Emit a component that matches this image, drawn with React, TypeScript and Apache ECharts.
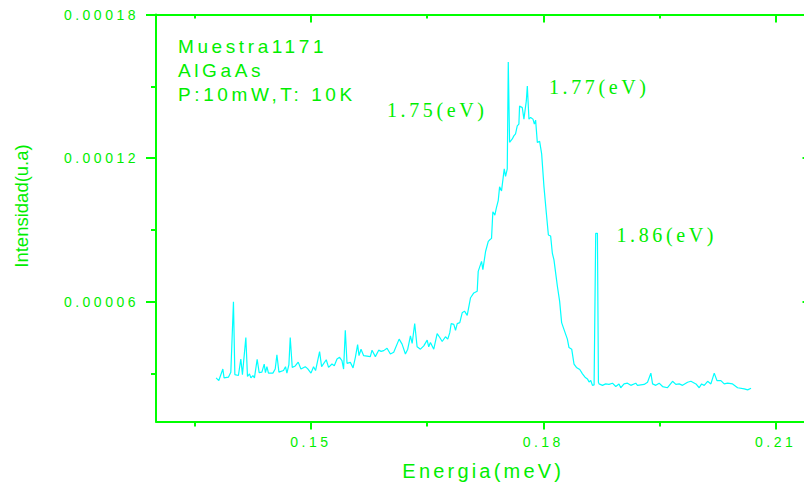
import { useEffect, useRef } from 'react';
import * as echarts from 'echarts';

// Photoluminescence spectrum
const energy = [
  0.13776, 0.13811, 0.13863, 0.13879, 0.13935, 0.13966, 0.14000, 0.14018, 0.14064, 0.14095,
  0.14116, 0.14160, 0.14181, 0.14207, 0.14225, 0.14251, 0.14271, 0.14306, 0.14332, 0.14367,
  0.14397, 0.14413, 0.14432, 0.14452, 0.14509, 0.14539, 0.14561, 0.14587, 0.14646, 0.14672,
  0.14690, 0.14716, 0.14733, 0.14759, 0.14798, 0.14836, 0.14871, 0.14927, 0.14957, 0.15001,
  0.15034, 0.15060, 0.15112, 0.15138, 0.15198, 0.15228, 0.15272, 0.15302, 0.15337, 0.15370,
  0.15401, 0.15422, 0.15444, 0.15466, 0.15509, 0.15544, 0.15574, 0.15603, 0.15621, 0.15647,
  0.15681, 0.15767, 0.15789, 0.15832, 0.15875, 0.15906, 0.15940, 0.15983, 0.16026, 0.16069,
  0.16139, 0.16177, 0.16220, 0.16250, 0.16285, 0.16307, 0.16340, 0.16371, 0.16414, 0.16457,
  0.16501, 0.16521, 0.16543, 0.16586, 0.16630, 0.16664, 0.16695, 0.16737, 0.16767, 0.16793,
  0.16811, 0.16845, 0.16867, 0.16889, 0.16922, 0.16953, 0.16983, 0.17018, 0.17061, 0.17103,
  0.17147, 0.17160, 0.17203, 0.17220, 0.17255, 0.17290, 0.17306, 0.17332, 0.17349, 0.17375,
  0.17393, 0.17419, 0.17436, 0.17461, 0.17496, 0.17513, 0.17535, 0.17548, 0.17565, 0.17600,
  0.17620, 0.17642, 0.17664, 0.17685, 0.17694, 0.17729, 0.17750, 0.17781, 0.17794, 0.17815,
  0.17837, 0.17867, 0.17885, 0.17901, 0.17923, 0.17953, 0.17979, 0.18009, 0.18040, 0.18066,
  0.18095, 0.18117, 0.18138, 0.18160, 0.18182, 0.18211, 0.18237, 0.18267, 0.18311, 0.18332,
  0.18367, 0.18397, 0.18428, 0.18471, 0.18506, 0.18539, 0.18570, 0.18591, 0.18613, 0.18635,
  0.18656, 0.18677, 0.18699, 0.18712, 0.18720, 0.18764, 0.18806, 0.18849, 0.18893, 0.18936,
  0.18978, 0.19000, 0.19043, 0.19087, 0.19130, 0.19194, 0.19216, 0.19302, 0.19346, 0.19389,
  0.19411, 0.19453, 0.19496, 0.19540, 0.19604, 0.19669, 0.19712, 0.19755, 0.19798, 0.19863,
  0.19906, 0.19971, 0.20013, 0.20044, 0.20078, 0.20122, 0.20164, 0.20207, 0.20242, 0.20293,
  0.20336, 0.20380, 0.20444, 0.20509, 0.20595, 0.20639, 0.20682,
];

const intensity = [
  2.82e-5, 2.71e-5, 3.19e-5, 2.82e-5, 2.85e-5, 3.06e-5, 6.00e-5, 2.96e-5, 2.92e-5, 3.61e-5,
  2.96e-5, 4.51e-5, 2.88e-5, 2.99e-5, 2.82e-5, 2.92e-5, 2.82e-5, 3.60e-5, 3.04e-5, 3.06e-5,
  3.40e-5, 3.04e-5, 3.29e-5, 3.02e-5, 3.02e-5, 3.19e-5, 3.79e-5, 3.06e-5, 3.13e-5, 3.29e-5,
  3.02e-5, 3.38e-5, 4.51e-5, 3.26e-5, 3.32e-5, 3.48e-5, 3.19e-5, 3.29e-5, 3.21e-5, 3.02e-5,
  3.29e-5, 3.13e-5, 3.92e-5, 3.29e-5, 3.58e-5, 3.26e-5, 3.40e-5, 3.33e-5, 3.61e-5, 3.68e-5,
  3.54e-5, 3.19e-5, 4.81e-5, 3.43e-5, 3.47e-5, 3.24e-5, 3.68e-5, 4.21e-5, 3.75e-5, 4.02e-5,
  3.75e-5, 3.71e-5, 3.98e-5, 3.71e-5, 3.98e-5, 3.93e-5, 3.96e-5, 4.06e-5, 3.82e-5, 3.89e-5,
  4.44e-5, 4.23e-5, 3.82e-5, 4.02e-5, 4.58e-5, 4.26e-5, 5.09e-5, 4.12e-5, 4.02e-5, 4.16e-5,
  4.40e-5, 4.12e-5, 4.30e-5, 4.02e-5, 4.67e-5, 4.51e-5, 4.34e-5, 4.54e-5, 4.44e-5, 4.71e-5,
  5.09e-5, 5.06e-5, 4.81e-5, 5.09e-5, 5.13e-5, 5.54e-5, 5.61e-5, 5.43e-5, 6.17e-5, 6.37e-5,
  6.44e-5, 7.27e-5, 7.69e-5, 7.34e-5, 8.10e-5, 8.52e-5, 8.58e-5, 8.65e-5, 9.76e-5, 9.62e-5,
  9.90e-5, 10.24e-5, 10.80e-5, 10.63e-5, 11.55e-5, 11.24e-5, 11.55e-5, 16.02e-5, 12.66e-5, 12.80e-5,
  12.93e-5, 13.01e-5, 13.35e-5, 13.42e-5, 14.18e-5, 14.11e-5, 13.63e-5, 14.39e-5, 15.01e-5, 13.63e-5,
  13.70e-5, 13.63e-5, 13.42e-5, 13.59e-5, 12.66e-5, 12.70e-5, 12.18e-5, 10.80e-5, 9.69e-5, 8.79e-5,
  8.75e-5, 8.03e-5, 7.75e-5, 7.20e-5, 6.65e-5, 6.03e-5, 5.13e-5, 4.85e-5, 4.44e-5, 4.09e-5,
  4.02e-5, 3.40e-5, 3.26e-5, 3.17e-5, 2.99e-5, 2.85e-5, 2.78e-5, 2.65e-5, 2.71e-5, 2.51e-5,
  2.53e-5, 8.86e-5, 8.86e-5, 2.64e-5, 2.57e-5, 2.51e-5, 2.57e-5, 2.55e-5, 2.60e-5, 2.46e-5,
  2.57e-5, 2.41e-5, 2.57e-5, 2.60e-5, 2.51e-5, 2.60e-5, 2.51e-5, 2.55e-5, 2.64e-5, 3.02e-5,
  2.57e-5, 2.51e-5, 2.60e-5, 2.46e-5, 2.41e-5, 2.68e-5, 2.55e-5, 2.57e-5, 2.51e-5, 2.64e-5,
  2.68e-5, 2.57e-5, 2.41e-5, 2.57e-5, 2.51e-5, 2.68e-5, 2.57e-5, 3.02e-5, 2.71e-5, 2.71e-5,
  2.57e-5, 2.60e-5, 2.57e-5, 2.41e-5, 2.36e-5, 2.32e-5, 2.39e-5,
];

const xMajorTicks = [0.15, 0.18, 0.21];
const xMinorTicks = [0.135, 0.165, 0.195];
const yMajorTicks = [0.00006, 0.00012, 0.00018];
const yMinorTicks = [0.00003, 0.00009, 0.00015];

const infoLines = ['Muestra1171', 'AlGaAs', 'P:10mW,T: 10K'];
const peakLabels = ['1.75(eV)', '1.77(eV)', '1.86(eV)'];
const xTitle = 'Energia(meV)';
const yTitle = 'Intensidad(u.a)';

const GREEN = '#00ff00';
const TEXT_GREEN = '#00ee00';
const CYAN = '#00ffff';
const SANS = 'Liberation Sans, Arial, sans-serif';
const SERIF = 'Liberation Serif, Times New Roman, serif';

const X_MIN = 0.13;
const X_MAX = 0.2145;
const Y_MIN = 0.00001;
const Y_MAX = 0.00018;

function spacingFor(s: string): string | null {
  if (/^0\.\d+$/.test(s)) return '3.5px';
  if (s === xTitle) return '3.2px';
  if (peakLabels.includes(s)) return '3.6px';
  if (infoLines.includes(s)) return '3.6px';
  return null;
}

export default function App() {
  const ref = useRef<HTMLDivElement>(null);

  useEffect(() => {
    if (!ref.current) return;
    const chart = echarts.init(ref.current, undefined, { renderer: 'svg' });
    const line = { color: GREEN, width: 2 };
    const baseX = {
      type: 'value',
      min: X_MIN,
      max: X_MAX,
      splitLine: { show: false },
      axisLabel: { show: false },
      axisTick: { show: false },
      axisLine: { show: false, onZero: false },
    };
    const baseY = {
      type: 'value',
      min: Y_MIN,
      max: Y_MAX,
      splitLine: { show: false },
      axisLabel: { show: false },
      axisTick: { show: false },
      axisLine: { show: false, onZero: false },
    };
    const data = energy.map((e, i) => [e, intensity[i]]);

    chart.setOption({
      animation: false,
      backgroundColor: '#ffffff',
      grid: { left: 156, right: 9.5, top: 14.5, bottom: 62, containLabel: false },
      xAxis: [
        {
          ...baseX,
          position: 'bottom',
          axisLine: { show: true, onZero: false, lineStyle: line },
          axisTick: { show: true, customValues: xMajorTicks, length: 8, lineStyle: line },
          axisLabel: {
            show: true,
            customValues: xMajorTicks,
            formatter: (v: number) => v.toFixed(2),
            color: TEXT_GREEN,
            fontFamily: SANS,
            fontSize: 14,
            margin: 13.5,
          },
          name: xTitle,
          nameLocation: 'middle',
          nameGap: 39.5,
          nameTextStyle: { color: TEXT_GREEN, fontFamily: SANS, fontSize: 20 },
        },
        {
          ...baseX,
          position: 'bottom',
          axisTick: { show: true, customValues: xMinorTicks, length: 5, lineStyle: line },
        },
        {
          ...baseX,
          position: 'top',
          axisLine: { show: true, onZero: false, lineStyle: line },
          axisTick: { show: true, inside: true, customValues: xMajorTicks, length: 8, lineStyle: line },
        },
        {
          ...baseX,
          position: 'top',
          axisTick: { show: true, inside: true, customValues: xMinorTicks, length: 4, lineStyle: line },
        },
      ],
      yAxis: [
        {
          ...baseY,
          position: 'left',
          axisLine: { show: true, onZero: false, lineStyle: line },
          axisTick: { show: true, customValues: yMajorTicks, length: 10, lineStyle: line },
          axisLabel: {
            show: true,
            customValues: yMajorTicks,
            formatter: (v: number) => v.toFixed(5),
            color: TEXT_GREEN,
            fontFamily: SANS,
            fontSize: 14,
            margin: 17,
          },
        },
        {
          ...baseY,
          position: 'left',
          axisTick: { show: true, customValues: yMinorTicks, length: 5, lineStyle: line },
        },
        {
          ...baseY,
          position: 'right',
          axisLine: { show: true, onZero: false, lineStyle: line },
          axisTick: { show: true, inside: true, customValues: yMajorTicks, length: 8, lineStyle: line },
        },
        {
          ...baseY,
          position: 'right',
          axisTick: { show: true, inside: true, customValues: yMinorTicks, length: 4, lineStyle: line },
        },
      ],
      series: [
        {
          type: 'line',
          xAxisIndex: 0,
          yAxisIndex: 0,
          data,
          showSymbol: false,
          symbol: 'none',
          lineStyle: { color: CYAN, width: 1.2 },
          silent: true,
        },
      ],
      graphic: [
        ...infoLines.map((t, i) => ({
          type: 'text',
          x: 178,
          y: 46.4 + i * 24,
          style: { text: t, fill: TEXT_GREEN, fontFamily: SANS, fontSize: 19, align: 'left', verticalAlign: 'middle' },
        })),
        {
          type: 'text',
          x: 387,
          y: 110.2,
          style: { text: peakLabels[0], fill: TEXT_GREEN, fontFamily: SERIF, fontSize: 20, align: 'left', verticalAlign: 'middle' },
        },
        {
          type: 'text',
          x: 549,
          y: 87.2,
          style: { text: peakLabels[1], fill: TEXT_GREEN, fontFamily: SERIF, fontSize: 20, align: 'left', verticalAlign: 'middle' },
        },
        {
          type: 'text',
          x: 616.5,
          y: 234.6,
          style: { text: peakLabels[2], fill: TEXT_GREEN, fontFamily: SERIF, fontSize: 20, align: 'left', verticalAlign: 'middle' },
        },
        {
          type: 'text',
          x: 21.5,
          y: 206,
          rotation: Math.PI / 2,
          style: { text: yTitle, fill: TEXT_GREEN, fontFamily: SANS, fontSize: 18.5, align: 'center', verticalAlign: 'middle' },
        },
      ],
    });

    const applySpacing = () => {
      if (!ref.current) return;
      ref.current.querySelectorAll('text').forEach((t) => {
        const sp = spacingFor((t.textContent || '').trim());
        if (sp) t.setAttribute('letter-spacing', sp);
      });
    };
    applySpacing();
    chart.on('finished', applySpacing);

    return () => {
      chart.dispose();
    };
  }, []);

  return (
    <div style={{ position: 'absolute', left: 0, top: 0, width: 804, height: 486, overflow: 'hidden', background: '#fff' }}>
      <div ref={ref} style={{ width: 820, height: 486 }} />
    </div>
  );
}
